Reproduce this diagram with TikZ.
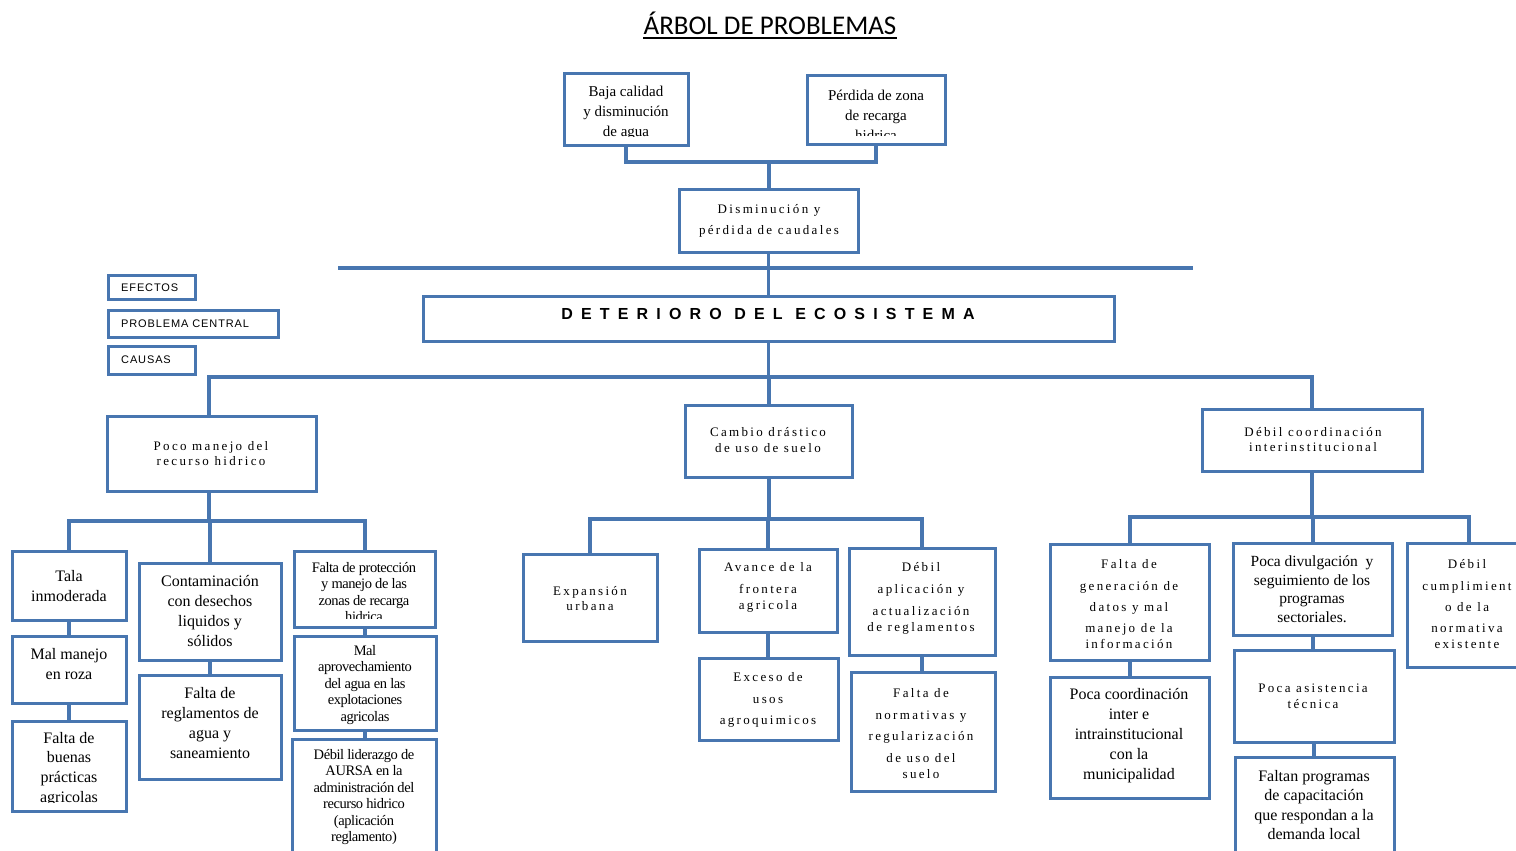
\documentclass[tikz,border=0pt]{standalone}
\usepackage{fontspec}
\setmainfont{Liberation Serif}
\newfontfamily\trk[LetterSpace=18]{Liberation Serif}
\newfontfamily\cnd[LetterSpace=-3]{Liberation Serif}
\newfontfamily\lgd[LetterSpace=8]{Liberation Sans}
\newfontfamily\cen[LetterSpace=51]{Liberation Sans}
\newfontfamily\ttl{Carlito}
\definecolor{bl}{RGB}{72,118,176}
\tikzset{
  box/.style={draw=bl, line width=3pt, inner sep=0pt, outer sep=0pt, rectangle, fill=white},
  conn/.style={draw=bl, line width=4pt},
  thinconn/.style={draw=bl, line width=2.5pt},
  tx/.style={inner sep=0pt, align=center, text=black},
  fA/.style={font=\fontsize{16}{20}\selectfont},
  fT/.style={font=\trk\fontsize{13}{16}\selectfont},
  fC/.style={font=\cnd\fontsize{14.5}{16.5}\selectfont},
  fL/.style={font=\lgd\fontsize{11}{13}\selectfont, anchor=west},
}
\newcommand{\bx}[5]{\pgfmathsetmacro{\mybw}{#4-#2}\pgfmathsetmacro{\mybh}{#5-#3}%
  \node[box, minimum width=\mybw pt, minimum height=\mybh pt] (#1) at ({(#2+#4)/2},{(#3+#5)/2}) {};}
\newcommand{\cliptx}[1]{\clip ([shift={(3pt,-3pt)}]#1.north west) rectangle ([shift={(-3pt,8.5pt)}]#1.south east);}
\begin{document}
\begin{tikzpicture}[x=1pt,y=-1pt]
\useasboundingbox (0,0) rectangle (1516,851);
\fill[white] (0,0) rectangle (1516,851);
\clip (0,0) rectangle (1516,851);

% title
\node[inner sep=0pt, anchor=base, font=\ttl\fontsize{27}{32}\selectfont] (title) at (770,35) {ÁRBOL DE PROBLEMAS};
\draw[line width=1.6pt] ([yshift=-3pt]title.base west) -- ([yshift=-3pt]title.base east);

% boxes
\bx{baja}{564}{74}{688}{145}
\bx{perdida}{807}{76}{945}{144}
\bx{dism}{679}{189}{858}{252}
\bx{central}{423}{296}{1114}{341}
\bx{efectos}{108}{275}{195}{299}
\bx{probc}{108}{310}{278}{337}
\bx{causas}{108}{346}{195}{374}
\bx{poco}{107}{416}{316}{491}
\bx{cambio}{685}{405}{852}{477}
\bx{debilc}{1202}{409}{1422}{471}
\bx{tala}{12}{551}{126}{620}
\bx{malman}{12}{636}{126}{703}
\bx{buenas}{12}{721}{126}{811}
\bx{contam}{139}{563}{281}{660}
\bx{faltareg}{139}{675}{281}{779}
\bx{faltaprot}{294}{551}{435}{627}
\bx{malaprov}{294}{636}{436}{730}
\bx{debillid}{292}{739}{436}{870}
\bx{expansion}{523}{554}{657}{641}
\bx{avance}{699}{549}{837}{632}
\bx{exceso}{699}{658}{838}{740}
\bx{debilapl}{849}{548}{995}{655}
\bx{faltanorm}{851}{672}{995}{791}
\bx{faltagen}{1050}{544}{1209}{660}
\bx{pocacoord}{1050}{677}{1209}{798}
\bx{pocadiv}{1233}{543}{1392}{635}
\bx{pocaasist}{1234}{650}{1394}{742}
\bx{faltanprog}{1235}{757}{1394}{870}
\bx{debilcum}{1407}{543}{1531}{667}

% texts
\begin{scope}\cliptx{baja}
\node[tx, font=\fontsize{15}{20}\selectfont] (baja-t) at (626,113) {Baja calidad\\y disminución\\de agua};
\end{scope}
\begin{scope}\cliptx{perdida}
\node[tx, font=\fontsize{15}{20}\selectfont] (perdida-t) at (876,115) {Pérdida de zona\\de recarga\\hidrica};
\end{scope}
\node[tx, font=\trk\fontsize{13}{21}\selectfont] (dism-t) at (769,220.5) {Disminución y\\pérdida de caudales};
\node[tx, font=\cen\bfseries\fontsize{16}{19}\selectfont] (central-t) at (768,314) {DETERIORO DEL ECOSISTEMA};
\node[tx, fL] (efectos-t) at (121,288) {EFECTOS};
\node[tx, fL] (probc-t) at (121,324) {PROBLEMA CENTRAL};
\node[tx, fL] (causas-t) at (121,360) {CAUSAS};
\node[tx, font=\trk\fontsize{13}{15}\selectfont] (poco-t) at (211,453.5) {Poco manejo del\\recurso hidrico};
\node[tx, font=\trk\fontsize{13}{16}\selectfont] (cambio-t) at (768,440) {Cambio drástico\\de uso de suelo};
\node[tx, font=\trk\fontsize{13}{15}\selectfont] (debilc-t) at (1313,440) {Débil coordinación\\interinstitucional};
\node[tx, fA] (tala-t) at (69,586) {Tala\\inmoderada};
\node[tx, fA] (malman-t) at (69,664) {Mal manejo\\en roza};
\begin{scope}\cliptx{buenas}
\node[tx, font=\fontsize{16}{19.7}\selectfont] (buenas-t) at (69,769) {Falta de\\buenas\\prácticas\\agricolas};
\end{scope}
\node[tx, font=\fontsize{16}{20.3}\selectfont] (contam-t) at (210,611) {Contaminación\\con desechos\\liquidos y\\sólidos};
\node[tx, fA] (faltareg-t) at (210,723) {Falta de\\reglamentos de\\agua y\\saneamiento};
\begin{scope}\cliptx{faltaprot}
\node[tx, fC] (faltaprot-t) at (364,592) {Falta de protección\\y manejo de las\\zonas de recarga\\hidrica};
\end{scope}
\node[tx, fC] (malaprov-t) at (365,685) {Mal\\aprovechamiento\\del agua en las\\explotaciones\\agricolas};
\node[tx, fC] (debillid-t) at (364,797) {Débil liderazgo de\\AURSA en la\\administración del\\recurso hidrico\\(aplicación\\reglamento)};
\node[tx, font=\trk\fontsize{13}{15}\selectfont] (expansion-t) at (590,598.5) {Expansión\\urbana};
\node[tx, fT] (avance-t) at (768,587) {Avance de la\\[6pt]frontera\\agricola};
\node[tx, font=\trk\fontsize{13}{21.5}\selectfont] (exceso-t) at (768,700) {Exceso de\\usos\\agroquimicos};
\node[tx, fT] (debilapl-t) at (921,598) {Débil\\[6pt]aplicación y\\[6pt]actualización\\de reglamentos};
\node[tx, fT] (faltanorm-t) at (921,734) {Falta de\\[6pt]normativas y\\[5pt]regularización\\[6pt]de uso del\\suelo};
\node[tx, fT] (faltagen-t) at (1129,604) {Falta de\\[6pt]generación de\\[5pt]datos y mal\\[5pt]manejo de la\\información};
\node[tx, fA] (pocacoord-t) at (1129,736) {Poca coordinación\\inter e\\intrainstitucional\\con la\\municipalidad};
\node[tx, font=\fontsize{15.5}{18.5}\selectfont] (pocadiv-t) at (1312,589) {Poca divulgación\ \ y\\seguimiento de los\\programas\\sectoriales.};
\node[tx, fT] (pocaasist-t) at (1313,696) {Poca asistencia\\técnica};
\node[tx, font=\fontsize{16}{19.5}\selectfont] (faltanprog-t) at (1314,805) {Faltan programas\\de capacitación\\que respondan a la\\demanda local};
\node[tx, fT] (debilcum-t) at (1467,604) {Débil\\[6pt]cumplimient\\[5pt]o de la\\[5pt]normativa\\existente};

% connectors
\coordinate (e1) at (dism.north |- 0,162);
\draw[conn] (baja.south) |- (e1) -| (perdida.south);
\draw[conn] (dism.north) -- (e1);
\coordinate (hl) at (338,268);
\coordinate (hr) at (1193,268);
\draw[conn] (hl) -- (hr);
\draw[thinconn] (dism.south) -- (central.north);
\coordinate (c1) at (central.south |- 0,377);
\draw[thinconn] (central.south) -- (c1);
\coordinate (pocatop) at (209,416);
\draw[conn] (pocatop) |- (c1) -| (debilc.north);
\draw[conn] (cambio.north) -- (c1);

\coordinate (l1) at (209,521);
\draw[conn] (pocatop |- poco.south) -- (l1);
\draw[conn] (tala.north) |- (l1) -| (faltaprot.north);
\draw[conn] (contam.north) -- (contam.north |- l1);
\draw[conn] (tala.south) -- (tala.south |- malman.north);
\draw[conn] (malman.south) -- (malman.south |- buenas.north);
\draw[conn] (contam.south) -- (contam.south |- faltareg.north);
\draw[conn] (faltaprot.south) -- (faltaprot.south |- malaprov.north);
\draw[conn] (malaprov.south) -- (malaprov.south |- debillid.north);

\coordinate (m1) at (cambio.south |- 0,519);
\draw[conn] (cambio.south) -- (m1);
\draw[conn] (expansion.north) |- (m1) -| (debilapl.north);
\draw[conn] (avance.north) -- (avance.north |- m1);
\draw[conn] (avance.south) -- (avance.south |- exceso.north);
\draw[conn] (debilapl.south) -- (debilapl.south |- faltanorm.north);

\coordinate (r1) at (debilc.south |- 0,517);
\draw[conn] (debilc.south) -- (r1);
\draw[conn] (faltagen.north) |- (r1) -| (debilcum.north);
\draw[conn] (pocadiv.north) -- (pocadiv.north |- r1);
\draw[conn] (faltagen.south) -- (faltagen.south |- pocacoord.north);
\draw[conn] (pocadiv.south) -- (pocadiv.south |- pocaasist.north);
\draw[conn] (pocaasist.south) -- (pocaasist.south |- faltanprog.north);
\end{tikzpicture}
\end{document}
